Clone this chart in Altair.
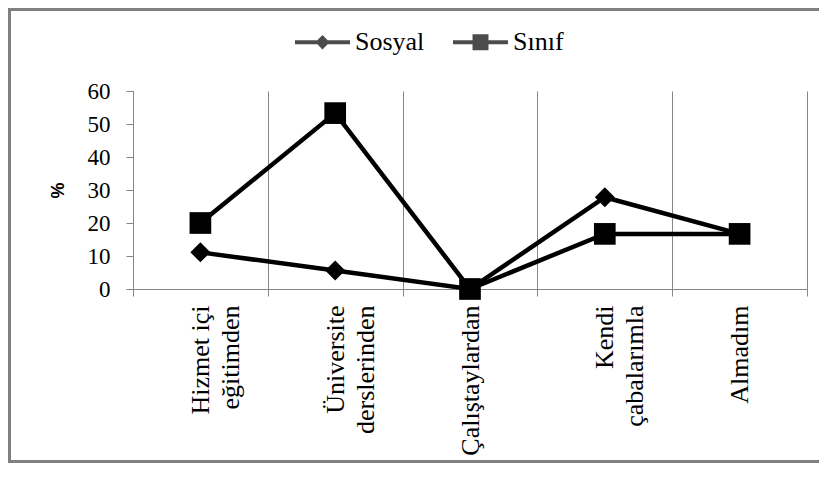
import altair as alt
import pandas as pd

categories = ["Hizmet içi eğitimden", "Üniversite derslerinden", "Çalıştaylardan",
              "Kendi çabalarımla", "Almadım"]
series_names = ["Sosyal", "Sınıf"]
sosyal = [11.1, 5.6, 0.0, 27.8, 16.7]
sinif = [20.0, 53.3, 0.0, 16.7, 16.7]
y_ticks = [0, 10, 20, 30, 40, 50, 60]

rows = []
for c, v in zip(categories, sosyal):
    rows.append({"Kategori": c, "Seri": "Sosyal", "Yuzde": v})
for c, v in zip(categories, sinif):
    rows.append({"Kategori": c, "Seri": "Sınıf", "Yuzde": v})
df = pd.DataFrame(rows)

GRAY = "#868686"
SERIF = "Liberation Serif"

label_expr = ("indexof(datum.label, ' ') >= 0 ? "
              "[slice(datum.label, 0, lastindexof(datum.label, ' ')), "
              "slice(datum.label, lastindexof(datum.label, ' ') + 1)] : datum.label")

x_enc = alt.X(
    "Kategori:N",
    sort=categories,
    bandPosition=0.5,
    scale=alt.Scale(type="band", domain=categories, paddingInner=0, paddingOuter=0),
    axis=alt.Axis(
        title=None, grid=True, gridColor=GRAY, gridWidth=1, tickBand="extent",
        domainColor=GRAY, tickColor=GRAY, tickSize=7, labelAngle=270,
        labelAlign="right", labelBaseline="middle", labelFont=SERIF,
        labelFontSize=26, labelLineHeight=30, labelPadding=9, labelColor="black",
        labelExpr=label_expr,
    ),
)
y_enc = alt.Y(
    "Yuzde:Q",
    scale=alt.Scale(domain=[0, 60], nice=False),
    axis=alt.Axis(
        values=y_ticks, grid=False, domainColor=GRAY, tickColor=GRAY, tickSize=7,
        labelFont=SERIF, labelFontSize=23, labelPadding=16, labelColor="black",
        title="%", titleFont="Liberation Sans", titleFontSize=18, titleFontWeight="bold",
        titleAngle=270, titleX=-75, titleY=99, titleAlign="center",
        titleBaseline="middle", titleColor="black",
    ),
)

base = alt.Chart(df)

lines = base.mark_line(color="black", strokeWidth=4.5).encode(
    x=x_enc, y=y_enc, detail="Seri:N"
)

points = base.mark_point(filled=True, color="black", opacity=1).encode(
    x=x_enc, y=y_enc,
    shape=alt.Shape("Seri:N", scale=alt.Scale(domain=series_names, range=["diamond", "square"]), legend=None),
    size=alt.Size("Seri:N", scale=alt.Scale(domain=series_names, range=[400, 470]), legend=None),
)

legend_paths = [
    "M-1,-0.075L1,-0.075L1,0.075L-1,0.075Z M-0.26,0L0,-0.26L0.26,0L0,0.26Z",
    "M-1,-0.075L1,-0.075L1,0.075L-1,0.075Z M-0.29,-0.29L0.29,-0.29L0.29,0.29L-0.29,0.29Z",
]
legend_layer = base.transform_filter("false").mark_point(filled=True, color="black").encode(
    x=x_enc, y=y_enc,
    shape=alt.Shape(
        "Seri:N",
        scale=alt.Scale(domain=series_names, range=legend_paths),
        legend=alt.Legend(
            title=None, orient="none", legendX=162, legendY=-76.5, direction="horizontal",
            labelFont=SERIF, labelFontSize=26, labelColor="black", labelOffset=5,
            columnPadding=28, symbolSize=3025, symbolStrokeWidth=0,
            symbolFillColor="black", padding=0,
        ),
    ),
)

one = alt.Data(values=[{}])
FRAME = "#808080"
border_left = alt.Chart(one).mark_rect(fill=FRAME, strokeWidth=0).encode(
    x=alt.value(-125), x2=alt.value(-122), y=alt.value(-83), y2=alt.value(372)
)
border_top = alt.Chart(one).mark_rect(fill=FRAME, strokeWidth=0).encode(
    x=alt.value(-125), x2=alt.value(686), y=alt.value(-83), y2=alt.value(-80)
)
border_bottom = alt.Chart(one).mark_rect(fill=FRAME, strokeWidth=0).encode(
    x=alt.value(-125), x2=alt.value(686), y=alt.value(369), y2=alt.value(372)
)

chart = alt.layer(border_left, border_top, border_bottom, lines, points, legend_layer).resolve_scale(
    shape="independent"
).properties(
    width=674, height=198,
    autosize=alt.AutoSizeParams(type="none"),
    padding={"left": 125, "top": 83, "right": 12, "bottom": 174},
    background="white",
).configure(font=SERIF).configure_view(stroke=None)

chart.save("out.html", embed_options={"renderer": "svg", "actions": False})
